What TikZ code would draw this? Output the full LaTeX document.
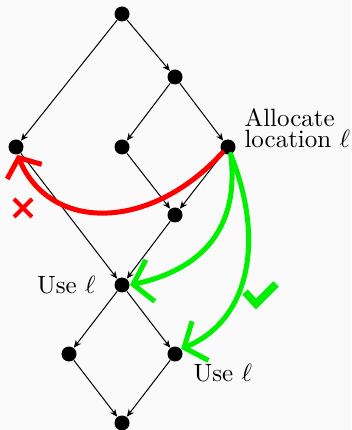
\documentclass[tikz,border=0pt]{standalone}
\usetikzlibrary{arrows.meta}
\definecolor{myred}{RGB}{255,0,0}
\definecolor{mygreen}{RGB}{0,240,0}
\begin{document}
\begin{tikzpicture}[x=0.4pt,y=-0.4pt,
  dot/.style={circle,fill=black,inner sep=0pt,minimum size=6pt},
  edge/.style={-{Stealth[length=3pt,width=2.6pt]},line width=0.4pt},
  bigred/.style={myred,line width=2pt,line cap=round,-{Straight Barb[length=6pt,width=15pt]}},
  biggreen/.style={mygreen,line width=2pt,line cap=round,-{Straight Barb[length=7pt,width=17pt]}},
  lbl/.style={inner sep=0pt,font=\fontsize{10}{8.4}\selectfont}]
\useasboundingbox (0,0) rectangle (351,430);
\fill[white!98!black] (0,0) rectangle (351,430);
\node[dot] (T) at (122,14) {};
\node[dot] (N) at (175,77) {};
\node[dot] (L) at (16,147) {};
\node[dot] (M) at (122,147) {};
\node[dot] (A) at (228,147) {};
\node[dot] (J) at (175,215) {};
\node[dot] (U) at (122,285) {};
\node[dot] (B1) at (69,354) {};
\node[dot] (B2) at (175,354) {};
\node[dot] (Z) at (122,423) {};
\draw[edge] (T) -- (L);
\draw[edge] (T) -- (N);
\draw[edge] (N) -- (M);
\draw[edge] (N) -- (A);
\draw[edge] (M) -- (J);
\draw[edge] (A) -- (J);
\draw[edge] (L) -- (U);
\draw[edge] (J) -- (U);
\draw[edge] (U) -- (B1);
\draw[edge] (U) -- (B2);
\draw[edge] (B1) -- (Z);
\draw[edge] (B2) -- (Z);
\node[lbl,anchor=base west,align=left] (alloc) at (244,148) {Allocate\\location $\ell$};
\node[lbl,anchor=base east] (use1) at (96,294) {Use $\ell$};
\node[lbl,anchor=base west] (use2) at (193,381) {Use $\ell$};
\draw[bigred] (A.225) .. controls (150,232) and (50,232) .. (L.-80);
\draw[biggreen] (A.290) .. controls (240,230) and (200,270) .. (U.east);
\draw[biggreen] (A.290) .. controls (265,240) and (250,320) .. (B2.40);
\draw[myred,line width=1.6pt] (14,199) -- (32,217) (32,199) -- (14,217);
\draw[mygreen,line width=3pt] (245,292) -- (256,304) -- (276,284);
\end{tikzpicture}
\end{document}
